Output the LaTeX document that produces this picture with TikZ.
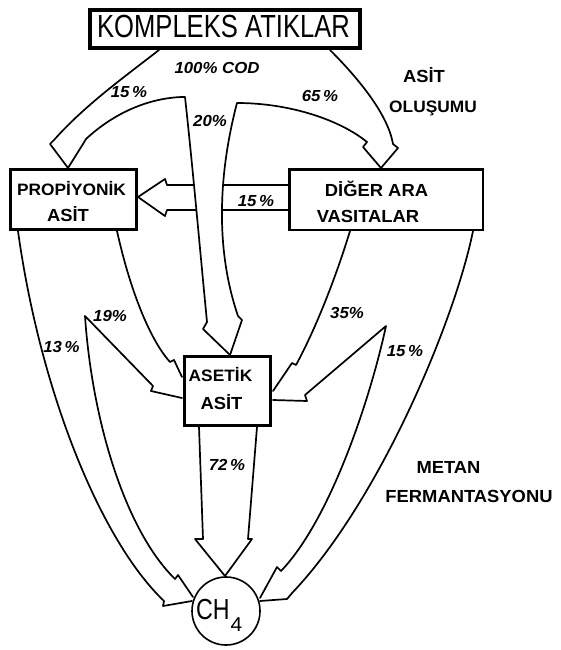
\documentclass[tikz,border=0pt]{standalone}
\usepackage{fontspec}
\setmainfont{Liberation Sans}
\newfontfamily\fLet[FakeStretch=1.05]{Liberation Sans}
\newfontfamily\fKom[FakeStretch=0.8]{Liberation Sans}
\begin{document}
\begin{tikzpicture}[x=1pt,y=-1pt]
\tikzset{
  ln/.style={line width=1.7pt, line join=round, line cap=round},
  box/.style={draw, inner sep=0pt},
  pct/.style={font=\fLet\bfseries\itshape\fontsize{16}{16}\selectfont, inner sep=0pt, anchor=base},
  txt/.style={font=\fLet\bfseries\fontsize{17.5}{17.5}\selectfont, inner sep=0pt, anchor=base},
}
\useasboundingbox (0,0) rectangle (561,650);
\fill[white] (0,0) rectangle (561,650);

% boxes
\node[box,line width=3.5pt,minimum width=270pt,minimum height=38pt] (ka) at (225,29) {};
\node[box,line width=3pt,minimum width=126pt,minimum height=60pt] (pa) at (73.5,199.5) {};
\node[box,line width=2.5pt,minimum width=193.5pt,minimum height=60.5pt] (da) at (386,199.5) {};
\node[box,line width=3pt,minimum width=86pt,minimum height=69pt] (aa) at (227.5,391) {};
\node[draw,circle,line width=1.6pt,minimum size=68pt,inner sep=0pt] (ch) at (226,611) {};

% box texts
\node[inner sep=0pt,anchor=base,font=\fKom\fontsize{32}{32}\selectfont] (kat) at (223.5,38) {KOMPLEKS ATIKLAR};
\node[txt,font=\fLet\bfseries\fontsize{16.5}{16.5}\selectfont] (pt1) at (71.5,195) {PROPİYONİK};
\node[txt] (pt2) at (68,221) {ASİT};
\node[txt] (dt1) at (376.5,196) {DİĞER ARA};
\node[txt] (dt2) at (368,222) {VASITALAR};
\node[txt,font=\fLet\bfseries\fontsize{16.5}{16.5}\selectfont] (at1) at (220.5,381) {ASETİK};
\node[txt] (at2) at (221.5,409) {ASİT};
\node[inner sep=0pt,anchor=base west,font=\fKom\fontsize{29}{29}\selectfont] (cht) at (196,619) {CH\kern1pt\raisebox{-12pt}{\fLet\fontsize{20}{20}\selectfont 4}};

% horizontal 15% arrow (under the middle arrow)
\draw[ln] (da.west |- 0,185) -- (167,185) -- (165,179) -- (pa.east |- 0,197) -- (165,216) -- (167,210) -- (da.west |- 0,210);

% mask of the middle arrow
\fill[white] (185,97) .. controls (193,170) and (200,250) .. (207,322) -- (203,329) -- (230,355) -- (242,320) -- (238,316) .. controls (212,240) and (222,160) .. (237,103) -- cycle;

% split from KOMPLEKS ATIKLAR
\draw[ln] (159,50) .. controls (127,75) and (85,105) .. (54,140) -- (50,144) -- (68,168) -- (83,144) -- (86,139)
  .. controls (115,112) and (150,98) .. (182,97) -- (185,97)
  .. controls (193,170) and (200,250) .. (207,322) -- (203,329) -- (230,355);
\draw[ln] (230,355) -- (242,320) -- (238,316) .. controls (212,240) and (222,160) .. (237,103)
  .. controls (290,103) and (340,120) .. (367,142) -- (363,147) -- (381,168) -- (398,148) -- (393,144)
  .. controls (388,115) and (360,80) .. (330,50);

% from PROPIYONIK ASIT
\draw[ln] (18,231) .. controls (40,390) and (100,540) .. (164,601) -- (163,606) -- (192,601);
\draw[ln] (117,231) .. controls (130,290) and (150,340) .. (170,362) -- (174,360) -- (182,377);
\draw[ln] (182,398) -- (151,391) -- (153,386) -- (85,316) .. controls (92,420) and (125,530) .. (175,579) -- (178,575) -- (193,597);

% from DIGER ARA VASITALAR
\draw[ln] (350,231) .. controls (335,280) and (315,330) .. (296,365) -- (292,363) -- (273,391);
\draw[ln] (273,400) -- (307,401) -- (305,395) -- (386,326) .. controls (370,400) and (330,520) .. (281,571) -- (277,567) -- (260,598);
\draw[ln] (473,231) .. controls (455,320) and (380,500) .. (293,592) -- (287,599) -- (260,601);

% from ASETIK ASIT
\draw[ln] (199,427) -- (203,539) -- (195,539) -- (225,576) -- (252,539) -- (248,539) -- (257,427);

% labels
\node[pct] (l100) at (217,74) {100\% COD};
\node[pct] (l15a) at (129,98) {15\,\%};
\node[pct] (l20) at (210,127) {20\%};
\node[pct] (l65) at (320,102) {65\,\%};
\node[pct] (l15b) at (256,206) {15\,\%};
\node[pct] (l19) at (110,321) {19\%};
\node[pct] (l13) at (61.5,352) {13\,\%};
\node[pct] (l35) at (347,318) {35\%};
\node[pct] (l15c) at (405,356) {15\,\%};
\node[pct] (l72) at (227,470) {72\,\%};

\node[txt] (asit) at (424,83) {ASİT};
\node[txt,font=\fLet\bfseries\fontsize{16.5}{16.5}\selectfont] (olus) at (433,113) {OLUŞUMU};
\node[txt] (metan) at (448.5,473) {METAN};
\node[txt] (ferm) at (469,502) {FERMANTASYONU};
\end{tikzpicture}
\end{document}
